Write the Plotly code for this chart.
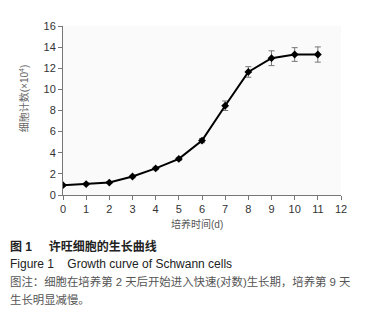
import plotly.graph_objects as go

days = [0, 1, 2, 3, 4, 5, 6, 7, 8, 9, 10, 11]
counts = [0.93, 1.03, 1.18, 1.75, 2.52, 3.42, 5.15, 8.45, 11.65, 12.95, 13.3, 13.3]
errors = [0.08, 0.08, 0.1, 0.12, 0.12, 0.15, 0.2, 0.45, 0.5, 0.7, 0.65, 0.72]
x_ticks = list(range(0, 13))
y_ticks = list(range(0, 17, 2))

LATIN_CJK = "Liberation Sans, Arial, Noto Sans CJK SC"

# page body has an 8px default margin, so figure is 8px smaller
W, H = 359, 312
ML, MR, MT, MB = 55, 26, 14, 125
PW, PH = W - ML - MR, H - MT - MB


def px(xp):
    return (xp - ML) / PW


def py(yp):
    return (H - MB - yp) / PH


fig = go.Figure()
fig.add_trace(go.Scatter(
    x=days, y=counts, mode="lines+markers",
    line=dict(color="black", width=2),
    marker=dict(symbol="diamond", size=6, color="black"),
    error_y=dict(type="data", array=errors, visible=True, color="#777777",
                 thickness=1, width=3),
    showlegend=False,
))

fig.update_layout(
    width=W, height=H,
    margin=dict(l=ML, r=MR, t=MT, b=MB),
    paper_bgcolor="white", plot_bgcolor="#fafafa",
    font=dict(family=LATIN_CJK, size=11, color="#333333"),
    xaxis=dict(range=[0, 12], tickvals=x_ticks, showgrid=False, zeroline=False,
               showline=True, linecolor="#777777", linewidth=1,
               ticks="outside", ticklen=4, tickcolor="#777777",
               tickfont=dict(size=11, color="#333333")),
    yaxis=dict(range=[0, 16], tickvals=y_ticks, showgrid=False, zeroline=False,
               showline=True, linecolor="#777777", linewidth=1,
               ticks="outside", ticklen=4, tickcolor="#777777",
               tickfont=dict(size=11, color="#333333")),
)

# axis titles
fig.add_annotation(text="培养时间(d)", xref="paper", yref="paper",
                   x=px(189), y=py(217), xanchor="center", yanchor="middle",
                   showarrow=False, font=dict(size=10, color="#555555", family=LATIN_CJK))
fig.add_annotation(text="细胞计数(×10<sup>4</sup>)", xref="paper", yref="paper",
                   x=px(16), y=py(88), xanchor="center", yanchor="middle",
                   textangle=-90, showarrow=False,
                   font=dict(size=10, color="#666666", family=LATIN_CJK))

captions = [
    ("<b>图 1&nbsp;&nbsp;&nbsp;&nbsp; 许旺细胞的生长曲线</b>", 240, "#222222", 12),
    ("Figure 1&nbsp;&nbsp;&nbsp; Growth curve of Schwann cells", 258, "#222222", 12),
    ("图注：细胞在培养第 2 天后开始进入快速(对数)生长期，培养第 9 天", 276, "#555555", 11.4),
    ("生长明显减慢。", 294, "#555555", 11.4),
]
for text, ypix, col, fs in captions:
    fig.add_annotation(
        text=text, xref="paper", yref="paper",
        x=px(0), y=py(ypix),
        xanchor="left", yanchor="middle", showarrow=False, align="left",
        font=dict(size=fs, color=col, family=LATIN_CJK),
    )

fig.write_html("out.html")
